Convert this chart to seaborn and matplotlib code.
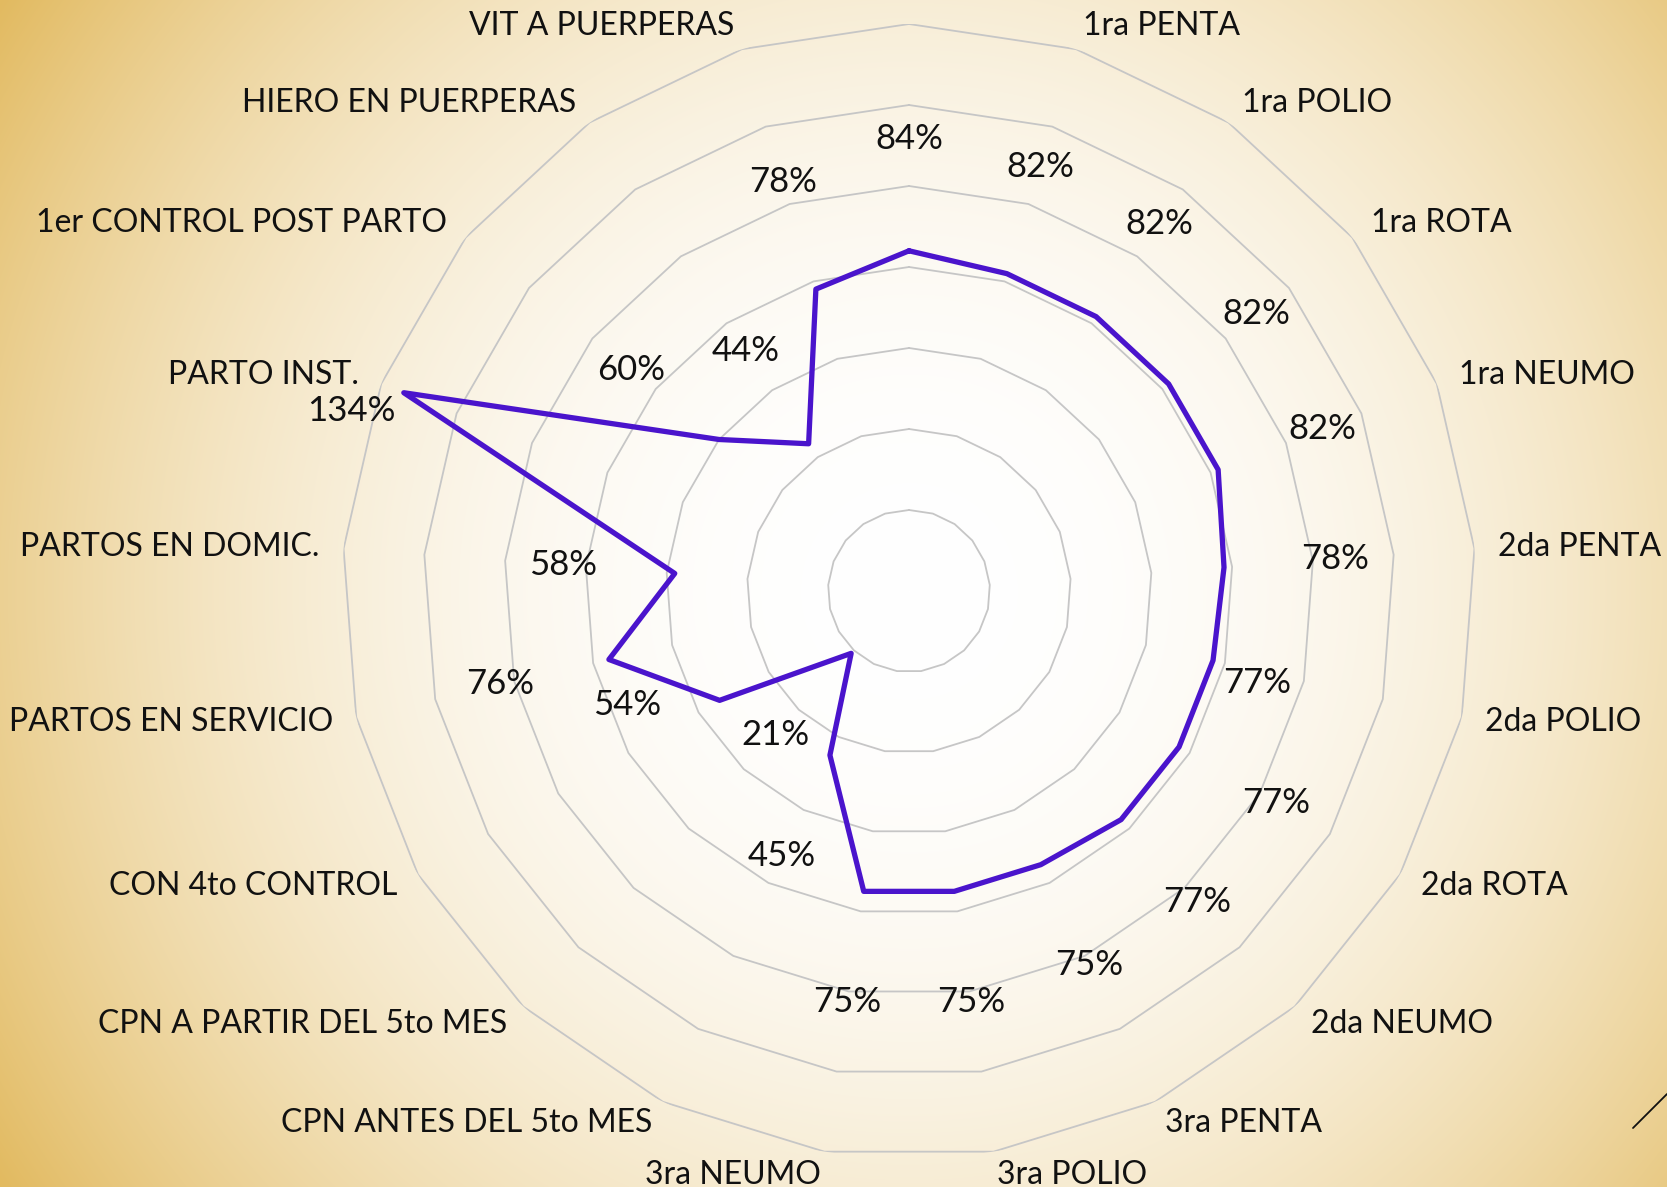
import numpy as np
import pandas as pd
import seaborn as sns
import matplotlib.pyplot as plt

# --- data (clockwise from the top axis) ---
categories = ["", "1ra PENTA", "1ra POLIO", "1ra ROTA", "1ra NEUMO", "2da PENTA",
              "2da POLIO", "2da ROTA", "2da NEUMO", "3ra PENTA", "3ra POLIO",
              "3ra NEUMO", "CPN ANTES DEL 5to MES", "CPN A PARTIR DEL 5to MES",
              "CON 4to CONTROL", "PARTOS EN SERVICIO", "PARTOS EN DOMIC.",
              "PARTO INST.", "1er CONTROL POST PARTO", "HIERO EN PUERPERAS",
              "VIT A PUERPERAS"]
values = [84, 82, 82, 82, 82, 78, 77, 77, 77, 75, 75, 75, 45, 21, 54, 76, 58,
          134, 60, 44, 78]
ring_levels = [20, 40, 60, 80, 100, 120, 140]

# label placement tweaks (index -> (angle shift in deg, radius))
label_fix = {6: (2, 89), 14: (8, 75), 17: (-3.5, 144.7)}

sns.set_theme(style="white")
plt.rcParams['font.family'] = ['Lato', 'DejaVu Sans']

W, H = 1667, 1187
fig = plt.figure(figsize=(W / 100, H / 100), dpi=100)

# --- radial background, white in the middle, gold at the corners ---
cx, cy = 909, 591
yy, xx = np.mgrid[0:H, 0:W]
t = np.clip(np.hypot(xx - cx, yy - cy) / 1084, 0, 1) ** 2.2
gold = np.array([226, 186, 96]) / 255
img = 1 + (gold - 1) * t[..., None]
bg = fig.add_axes([0, 0, 1, 1])
bg.imshow(img, aspect='auto', interpolation='bilinear')
bg.axis('off')

# --- radar ---
R = 567  # pixel radius of the 140% ring
ax = fig.add_axes([(cx - R) / W, (H - cy - R) / H, 2 * R / W, 2 * R / H],
                  projection='polar')
ax.set_facecolor('none')
ax.set_theta_zero_location('N')
ax.set_theta_direction(-1)

n = len(categories)
theta = np.arange(n) * 2 * np.pi / n
theta_c = np.append(theta, 2 * np.pi)

for lev in ring_levels:
    ax.plot(theta_c, [lev] * (n + 1), color='#C6C6C6', lw=1.3, zorder=1)

df = pd.DataFrame({'theta': theta_c, 'valor': values + [values[0]]})
sns.lineplot(data=df, x='theta', y='valor', sort=False, ax=ax,
             color='#4A14CC', lw=3.8, zorder=3)

ax.set_ylim(0, 140)
ax.set_xticks([])
ax.set_yticks([])
ax.set_xlabel('')
ax.set_ylabel('')
ax.grid(False)
ax.spines['polar'].set_visible(False)

# category labels
for i, (ang, name) in enumerate(zip(theta, categories)):
    deg = np.degrees(ang)
    if 1 < deg < 179:
        ha = 'left'
    elif 181 < deg < 359:
        ha = 'right'
    else:
        ha = 'center'
    ax.text(ang, 145.9, name, ha=ha, va='center', fontsize=23, color='#111111')

# value labels
for i, (ang, v) in enumerate(zip(theta, values)):
    dshift, r = label_fix.get(i, (0, v + 27.6))
    ax.text(ang + np.radians(dshift), r, f"{v}%", ha='center', va='center',
            fontsize=25, color='#111111')

# small decorative stroke in the bottom-right corner
fig.add_artist(plt.Line2D([1633 / W, 1.0], [1 - 1128 / H, 1 - 1094 / H],
                          color='#111111', lw=1.3))

fig.savefig('out.png', dpi=100)
